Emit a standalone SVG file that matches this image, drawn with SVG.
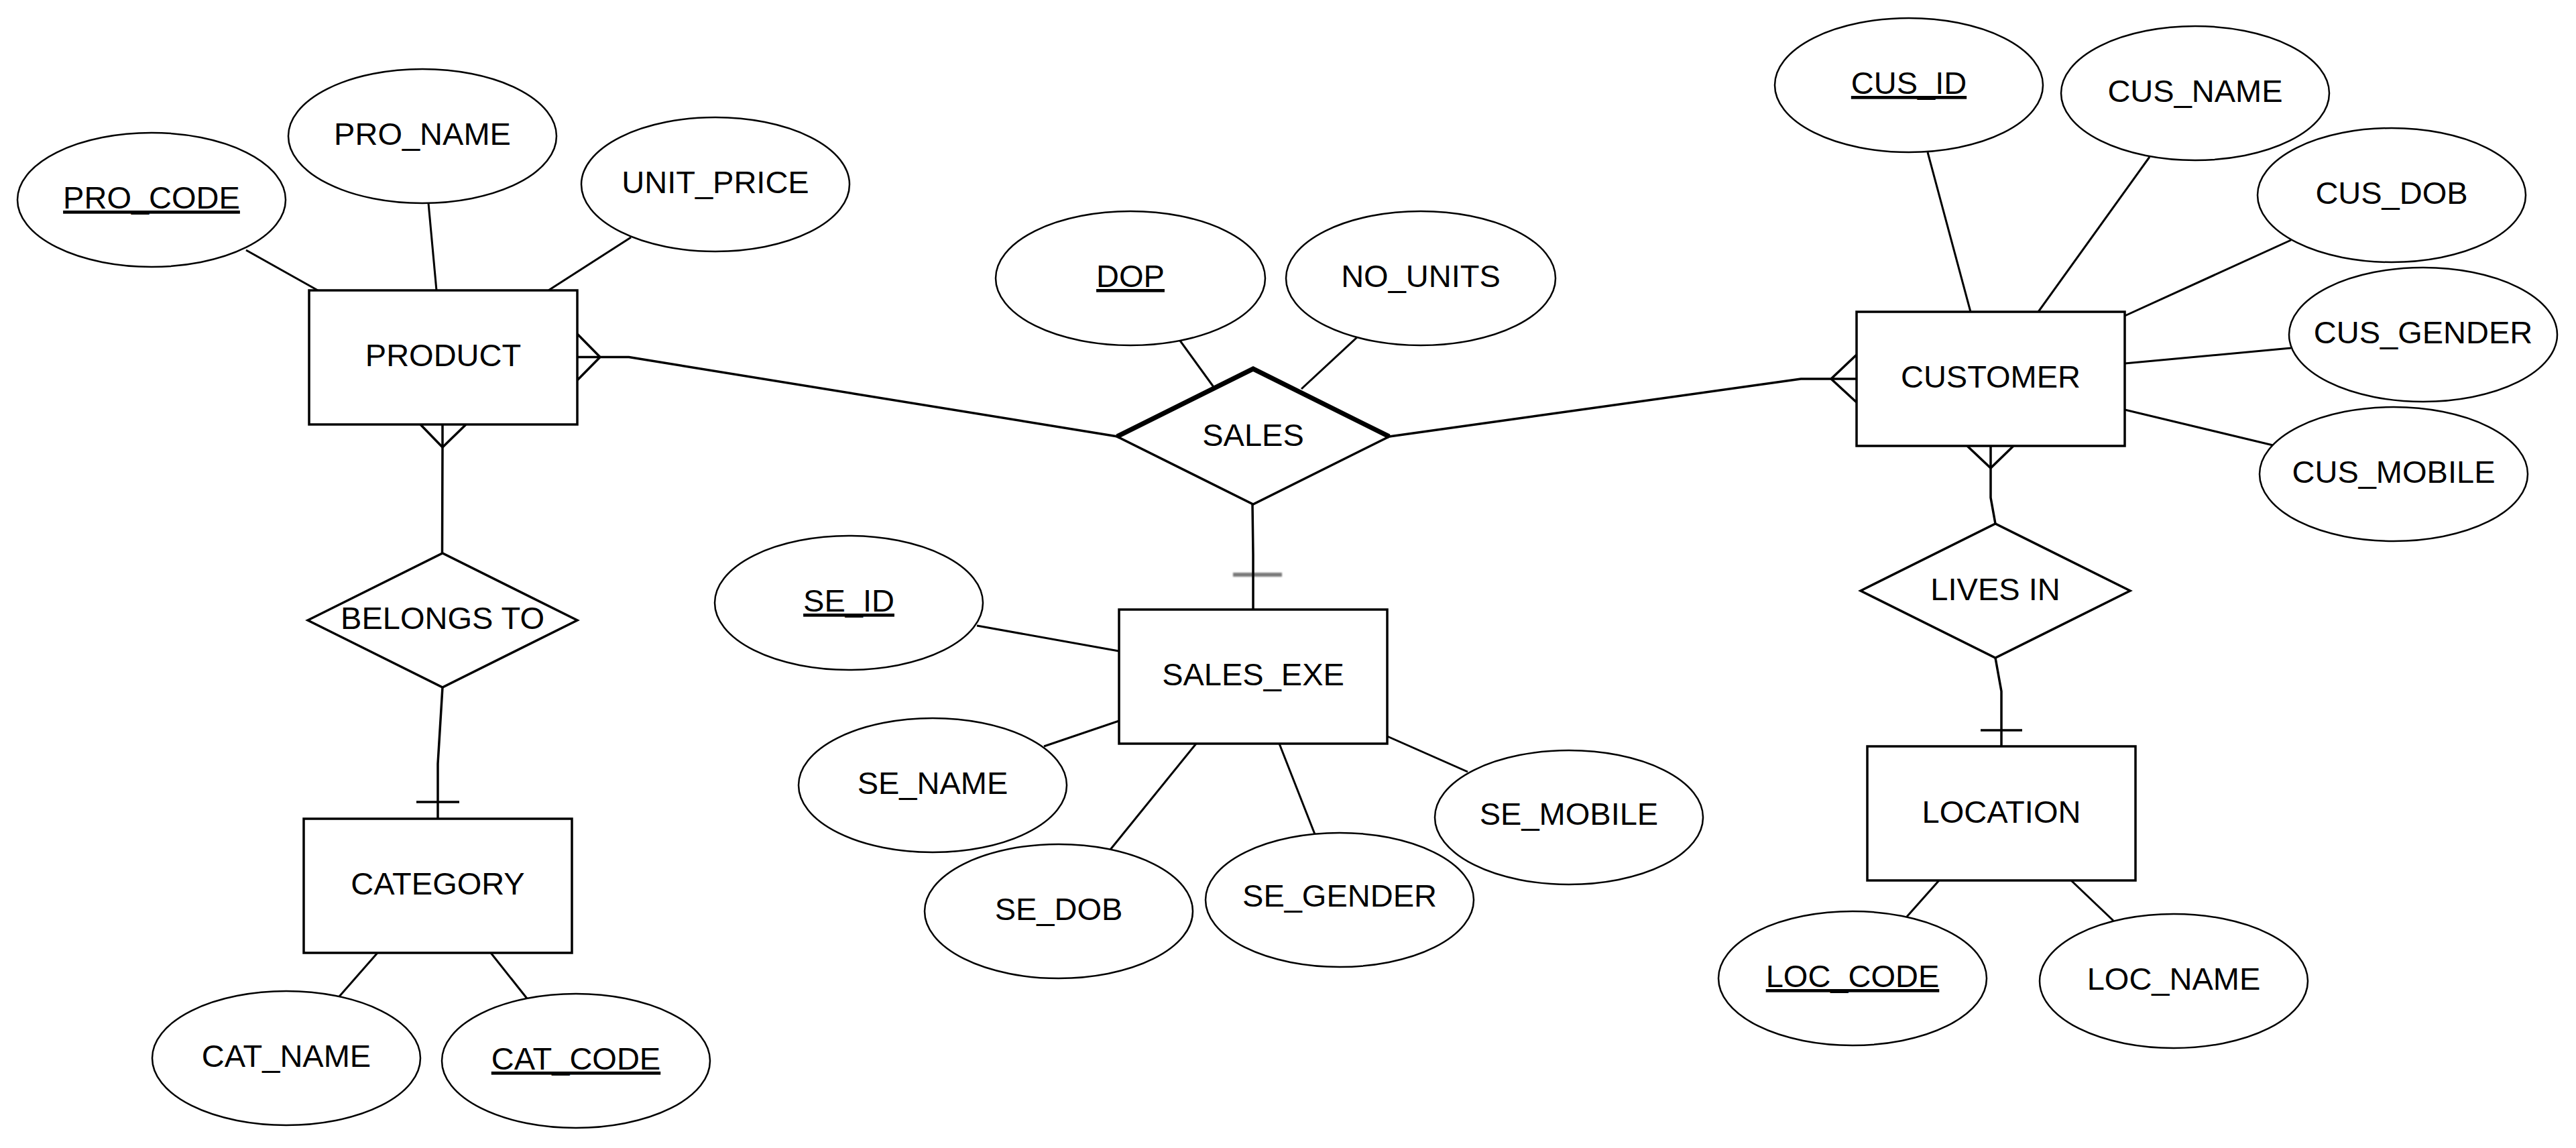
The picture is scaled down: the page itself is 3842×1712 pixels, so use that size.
<svg xmlns="http://www.w3.org/2000/svg" width="3842" height="1712" viewBox="0 0 3842 1712">
<style>
.ent{fill:#fff;stroke:#000;stroke-width:3.5}
.att{fill:#fff;stroke:#000;stroke-width:2.5}
.rel{fill:#fff;stroke:#000;stroke-width:3.5;stroke-linejoin:miter}
.thick{fill:none;stroke:#000;stroke-width:7;stroke-linejoin:miter}
.t{font-family:"Liberation Sans",Arial,sans-serif;font-size:47px;fill:#000;text-anchor:middle}
.u{text-decoration:underline}
.c{fill:none;stroke:#000;stroke-width:3.5}
.a{fill:none;stroke:#000;stroke-width:3}
</style>
<defs>
<filter id="blur" filterUnits="userSpaceOnUse" x="1820" y="840" width="110" height="34"><feGaussianBlur stdDeviation="1.3"/></filter>
</defs>
<rect width="3842" height="1712" fill="#fff"/>
<g id="connectors">
<line class="a" x1="367" y1="373" x2="474" y2="433"/>
<line class="a" x1="639" y1="303" x2="651" y2="433"/>
<line class="a" x1="941" y1="354" x2="818" y2="433"/>
<line class="a" x1="1760" y1="508" x2="1810" y2="577"/>
<line class="a" x1="2024" y1="503" x2="1941" y2="580"/>
<line class="a" x1="2875" y1="227" x2="2939" y2="465"/>
<line class="a" x1="3206" y1="234" x2="3040" y2="465"/>
<line class="a" x1="3417" y1="358" x2="3169" y2="471"/>
<line class="a" x1="3417" y1="519" x2="3169" y2="542"/>
<line class="a" x1="3390" y1="664" x2="3169" y2="611"/>
<line class="a" x1="1457" y1="933" x2="1669" y2="971"/>
<line class="a" x1="1557" y1="1113" x2="1669" y2="1075"/>
<line class="a" x1="1656" y1="1267" x2="1784" y2="1109"/>
<line class="a" x1="1961" y1="1244" x2="1908" y2="1109"/>
<line class="a" x1="2189" y1="1151" x2="2069" y2="1098"/>
<line class="a" x1="506" y1="1486" x2="563" y2="1421"/>
<line class="a" x1="786" y1="1489" x2="732" y2="1421"/>
<line class="a" x1="2844" y1="1367" x2="2892" y2="1313"/>
<line class="a" x1="3152" y1="1373" x2="3089" y2="1313"/>
<polyline class="c" points="861,532.5 938,532.5 1667,651"/>
<polyline class="c" points="861,498 895,532.5 861,567"/>
<polyline class="c" points="2072,651 2686,565 2769,565"/>
<polyline class="c" points="2769,529 2731,565 2769,600"/>
<rect x="1839" y="854" width="73" height="6" fill="#7a7a7a" filter="url(#blur)"/>
<polyline class="c" points="1868,752 1869,827 1869,909"/>
<polyline class="c" points="660,633 660,667 659.5,824"/>
<polyline class="c" points="627,633 660,667 695,633"/>
<polyline class="c" points="660,1025 653,1139 653,1221"/>
<line class="c" x1="621" y1="1196" x2="685" y2="1196"/>
<polyline class="c" points="2969,665 2969,742 2976,781"/>
<polyline class="c" points="2934,665 2969,698 3003,665"/>
<polyline class="c" points="2976,981 2985,1031 2985,1113"/>
<line class="c" x1="2954" y1="1089" x2="3016" y2="1089"/>
</g>
<g id="PRODUCT"><rect class="ent" x="461" y="433" width="400" height="200"/><text class="t" x="661" y="546">PRODUCT</text></g>
<g id="SALES_EXE"><rect class="ent" x="1669" y="909" width="400" height="200"/><text class="t" x="1869" y="1022">SALES_EXE</text></g>
<g id="CUSTOMER"><rect class="ent" x="2769" y="465" width="400" height="200"/><text class="t" x="2969" y="578">CUSTOMER</text></g>
<g id="CATEGORY"><rect class="ent" x="453" y="1221" width="400" height="200"/><text class="t" x="653" y="1334">CATEGORY</text></g>
<g id="LOCATION"><rect class="ent" x="2785" y="1113" width="400" height="200"/><text class="t" x="2985" y="1227">LOCATION</text></g>
<g id="SALES"><polygon class="rel" points="1666,651 1869,550 2072,651 1869,752"/><polyline class="thick" points="1666,651 1869,550 2072,651"/><text class="t" x="1869" y="665">SALES</text></g>
<g id="BELONGS_TO"><polygon class="rel" points="459,925 660,825 861,925 660,1025"/><text class="t" x="660" y="938">BELONGS TO</text></g>
<g id="LIVES_IN"><polygon class="rel" points="2775,881 2976,781 3177,881 2976,981"/><text class="t" x="2976" y="895">LIVES IN</text></g>
<g id="PRO_CODE"><ellipse class="att" cx="226" cy="298" rx="200" ry="100"/><text class="t u" x="226" y="311">PRO_CODE</text></g>
<g id="PRO_NAME"><ellipse class="att" cx="630" cy="203" rx="200" ry="100"/><text class="t" x="630" y="216">PRO_NAME</text></g>
<g id="UNIT_PRICE"><ellipse class="att" cx="1067" cy="275" rx="200" ry="100"/><text class="t" x="1067" y="288">UNIT_PRICE</text></g>
<g id="DOP"><ellipse class="att" cx="1686" cy="415" rx="201" ry="100"/><text class="t u" x="1686" y="428">DOP</text></g>
<g id="NO_UNITS"><ellipse class="att" cx="2119" cy="415" rx="201" ry="100"/><text class="t" x="2119" y="428">NO_UNITS</text></g>
<g id="CUS_ID"><ellipse class="att" cx="2847" cy="127" rx="200" ry="100"/><text class="t u" x="2847" y="140">CUS_ID</text></g>
<g id="CUS_NAME"><ellipse class="att" cx="3274" cy="139" rx="200" ry="100"/><text class="t" x="3274" y="152">CUS_NAME</text></g>
<g id="CUS_DOB"><ellipse class="att" cx="3567" cy="291" rx="200" ry="100"/><text class="t" x="3567" y="304">CUS_DOB</text></g>
<g id="CUS_GENDER"><ellipse class="att" cx="3614" cy="499" rx="200" ry="100"/><text class="t" x="3614" y="512">CUS_GENDER</text></g>
<g id="CUS_MOBILE"><ellipse class="att" cx="3570" cy="707" rx="200" ry="100"/><text class="t" x="3570" y="720">CUS_MOBILE</text></g>
<g id="SE_ID"><ellipse class="att" cx="1266" cy="899" rx="200" ry="100"/><text class="t u" x="1266" y="912">SE_ID</text></g>
<g id="SE_NAME"><ellipse class="att" cx="1391" cy="1171" rx="200" ry="100"/><text class="t" x="1391" y="1184">SE_NAME</text></g>
<g id="SE_DOB"><ellipse class="att" cx="1579" cy="1359" rx="200" ry="100"/><text class="t" x="1579" y="1372">SE_DOB</text></g>
<g id="SE_GENDER"><ellipse class="att" cx="1998" cy="1342" rx="200" ry="100"/><text class="t" x="1998" y="1352">SE_GENDER</text></g>
<g id="SE_MOBILE"><ellipse class="att" cx="2340" cy="1219" rx="200" ry="100"/><text class="t" x="2340" y="1230">SE_MOBILE</text></g>
<g id="CAT_NAME"><ellipse class="att" cx="427" cy="1578" rx="200" ry="100"/><text class="t" x="427" y="1591">CAT_NAME</text></g>
<g id="CAT_CODE"><ellipse class="att" cx="859" cy="1582" rx="200" ry="100"/><text class="t u" x="859" y="1595">CAT_CODE</text></g>
<g id="LOC_CODE"><ellipse class="att" cx="2763" cy="1459" rx="200" ry="100"/><text class="t u" x="2763" y="1472">LOC_CODE</text></g>
<g id="LOC_NAME"><ellipse class="att" cx="3242" cy="1463" rx="200" ry="100"/><text class="t" x="3242" y="1476">LOC_NAME</text></g>
</svg>
